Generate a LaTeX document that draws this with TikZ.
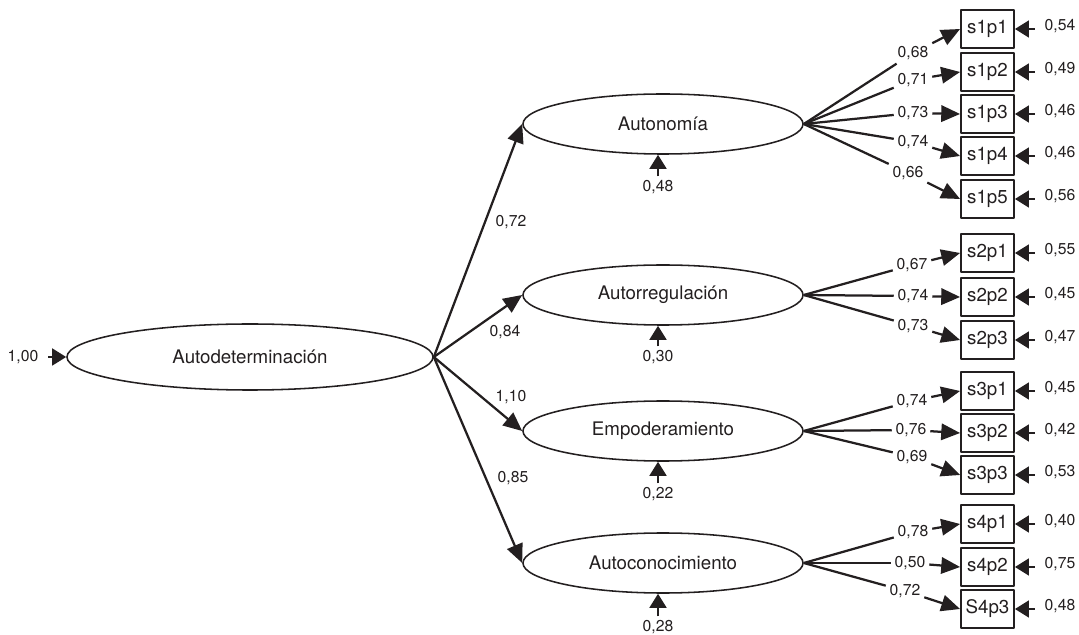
\documentclass[tikz,border=0pt]{standalone}
\usepackage{fontspec}
\setmainfont{TeX Gyre Heros}
\usetikzlibrary{arrows.meta,shapes.geometric}
\definecolor{ink}{RGB}{35,31,32}
\begin{document}
\begin{tikzpicture}[x=0.025cm,y=-0.025cm,line join=round,ink,line width=1.6pt,
  >={Triangle[length=0.47cm,width=0.41cm]}]
\tikzset{every node/.style={inner sep=0pt},
  fac/.style={draw,ellipse,line width=1.1pt,minimum width=7cm,minimum height=1.5cm,font=\fontsize{13.3}{16}\selectfont},
  ind/.style={draw,rectangle,line width=1.3pt,minimum width=1.325cm,minimum height=0.95cm,font=\fontsize{13.3}{16}\selectfont},
  num/.style={font=\fontsize{11.2}{13}\selectfont,inner sep=2pt},
  err/.style={num,inner xsep=0.22cm},
  errarrow/.style={-{Triangle[length=0.35cm,width=0.42cm]}}}
\useasboundingbox (0,0) rectangle (1079,635);
% factores
\node[fac,minimum width=9.15cm,minimum height=1.65cm] (ad) at (250,357) {Autodeterminación};
\node[fac] (f1) at (663,124) {Autonomía};
\node[fac] (f2) at (663,295) {Autorregulación};
\node[fac] (f3) at (663,431) {Empoderamiento};
\node[fac] (f4) at (663,563) {Autoconocimiento};
\node[err] (e0) at (23,357) {1,00};
\draw[errarrow] (e0) -- (ad);
% segundo orden
\draw[->] (ad.east) -- (f1.west);
\draw[->] (ad.east) -- (f2.west);
\draw[->] (ad.east) -- (f3.west);
\draw[->] (ad.east) -- (f4.west);
\node[num] (g1) at (511,222) {0,72};
\node[num] (g2) at (505,332) {0,84};
\node[num] (g3) at (511,397) {1,10};
\node[num] (g4) at (513,478) {0,85};
% residuos
\node[num] (r1) at (658,187) {0,48};
\node[num] (r2) at (658,357) {0,30};
\node[num] (r3) at (658,494) {0,22};
\node[num] (r4) at (658,627) {0,28};
\foreach \f in {1,...,4}
  \draw[errarrow] (r\f.north) -- (r\f.north |- f\f.south);
% indicadores
\foreach \f/\i/\t/\y/\lx/\ly/\l/\e in {
  1/1/s1p1/29/913/53/{0,68}/{0,54}, 1/2/s1p2/72/913/80/{0,71}/{0,49},
  1/3/s1p3/114/913/113/{0,73}/{0,46}, 1/4/s1p4/156/913/142/{0,74}/{0,46},
  1/5/s1p5/199/908/173/{0,66}/{0,56},
  2/1/s2p1/253/912/265/{0,67}/{0,55}, 2/2/s2p2/297/913/296/{0,74}/{0,45},
  2/3/s2p3/340/913/326/{0,73}/{0,47},
  3/1/s3p1/391/912/401/{0,74}/{0,45}, 3/2/s3p2/433/911/430/{0,76}/{0,42},
  3/3/s3p3/475/912/457/{0,69}/{0,53},
  4/1/s4p1/524/913/532/{0,78}/{0,40}, 4/2/s4p2/567/910/563/{0,50}/{0,75},
  4/3/S4p3/609/905/591/{0,72}/{0,48}} {
  \node[ind] (s\f\i) at (987.5,\y) {\t};
  \node[num] (l\f\i) at (\lx,\ly) {\l};
  \node[err] (e\f\i) at (1060,\y-3) {\e};
  \draw (f\f.east) -- (l\f\i);
  \draw[->] (l\f\i) -- (s\f\i.west);
  \draw[errarrow] (s\f\i.east -| e\f\i.west) -- (s\f\i.east);
}
\end{tikzpicture}
\end{document}
